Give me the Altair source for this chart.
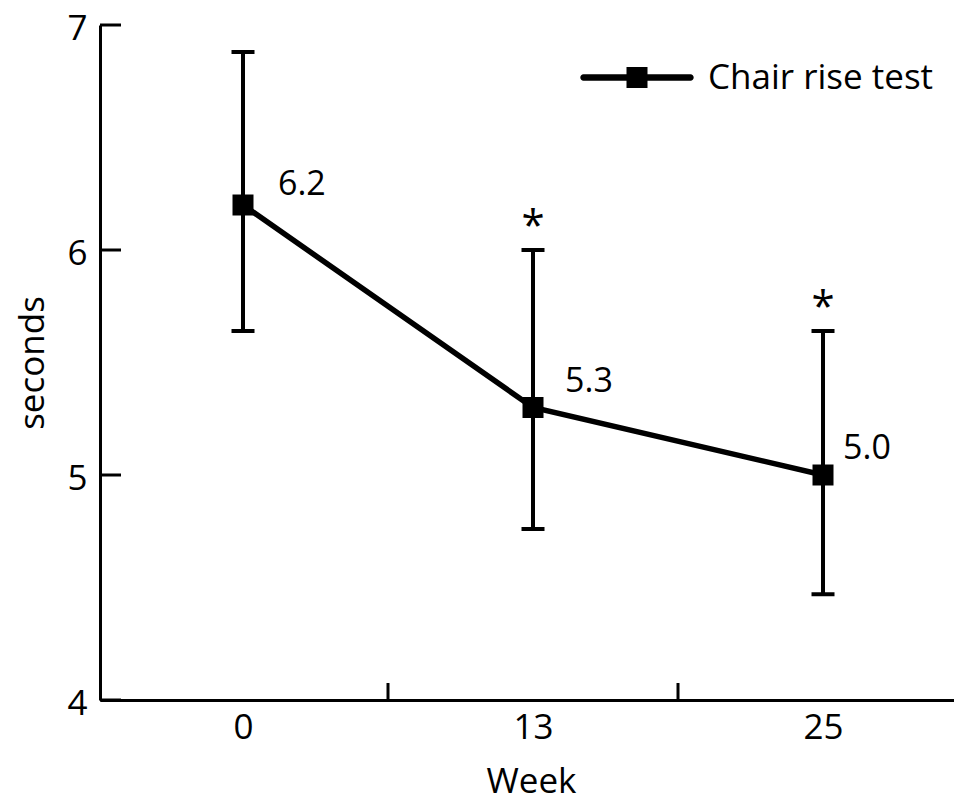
import altair as alt
import pandas as pd

# ---- data ----
weeks = ["0", "13", "25"]
means = [6.2, 5.3, 5.0]
lower = [5.64, 4.76, 4.47]
upper = [6.88, 6.00, 5.64]
marks = ["", "*", "*"]
series_name = "Chair rise test"
y_ticks = [4, 5, 6, 7]

df = pd.DataFrame({
    "idx": list(range(len(weeks))),
    "week": weeks,
    "mean": means,
    "lower": lower,
    "upper": upper,
    "mark": marks,
    "series": [series_name] * len(weeks),
})
ytick_df = pd.DataFrame({"v": y_ticks})
xtick_df = pd.DataFrame({"v": [i + 0.5 for i in range(len(weeks) - 1)]})

FONT = "Open Sans"
W, H = 854, 675

label_expr = "[" + ",".join("'%s'" % w for w in weeks) + "][datum.value]"
xscale = alt.Scale(domain=[-0.4931, 2.4517], nice=False, zero=False)
yscale = alt.Scale(domain=[4, 7], nice=False, zero=False)

x_enc = alt.X("idx:Q", scale=xscale,
              axis=alt.Axis(values=list(range(len(weeks))), labelExpr=label_expr,
                            title="Week", titleX=431, titleY=92,
                            titleBaseline="alphabetic", labelPadding=10))
y_enc = alt.Y("mean:Q", scale=yscale,
              axis=alt.Axis(values=y_ticks, format="d", title="seconds",
                            titleX=-57, titleY=H / 2, titleBaseline="alphabetic",
                            titleAngle=270, labelPadding=13, labelOffset=3))

base = alt.Chart(df)

line = base.mark_line(color="black", strokeWidth=5.5).encode(x=x_enc, y=y_enc)

err = base.mark_rule(color="black", strokeWidth=4).encode(
    x="idx:Q", y="lower:Q", y2="upper:Q")
cap_hi = base.mark_tick(color="black", orient="horizontal", size=23, thickness=4,
                        opacity=1).encode(x="idx:Q", y="upper:Q")
cap_lo = base.mark_tick(color="black", orient="horizontal", size=23, thickness=4,
                        opacity=1).encode(x="idx:Q", y="lower:Q")

legend_path = ("M-5.1,-0.3H5.1A0.3,0.3 0 0 1 5.1,0.3H-5.1A0.3,0.3 0 0 1 -5.1,-0.3Z "
               "M-1,-1H1V1H-1Z")

points = base.mark_point(shape="square", size=441, filled=True, opacity=1).encode(
    x="idx:Q", y="mean:Q",
    color=alt.Color("series:N", scale=alt.Scale(range=["black"]),
                    legend=alt.Legend(title=None, orient="none", legendX=519.5, legendY=35,
                                      symbolType=legend_path, symbolSize=441,
                                      symbolStrokeWidth=0, symbolOpacity=1,
                                      labelFont=FONT, labelFontSize=35,
                                      labelColor="black", labelOffset=53.5,
                                      labelLimit=0, padding=0)))

label_dx = [35, 32, 20]
label_dy = [-10, -16, -16]
value_labels = []
for i in range(len(weeks)):
    value_labels.append(
        base.transform_filter(alt.datum.idx == i).mark_text(
            align="left", baseline="alphabetic", dx=label_dx[i], dy=label_dy[i],
            font=FONT, fontSize=34, color="black").encode(
            x="idx:Q", y="mean:Q", text=alt.Text("mean:Q", format=".1f")))

stars = base.mark_text(align="center", baseline="alphabetic", dy=-10, font=FONT,
                       fontSize=42, color="black").encode(
    x="idx:Q", y="upper:Q", text="mark:N")

ytick_rules = alt.Chart(ytick_df).mark_rule(color="black", strokeWidth=3).encode(
    y=alt.Y("v:Q", scale=yscale), x=alt.value(0), x2=alt.value(21))
xtick_rules = alt.Chart(xtick_df).mark_rule(color="black", strokeWidth=3).encode(
    x=alt.X("v:Q", scale=xscale), y=alt.value(H), y2=alt.value(H - 17))

chart = alt.layer(line, err, cap_hi, cap_lo, points, *value_labels, stars,
                  ytick_rules, xtick_rules).properties(
    width=W, height=H,
    autosize=alt.AutoSizeParams(type="none"),
    padding={"left": 92, "top": 17, "right": 0, "bottom": 103},
).configure_view(stroke=None).configure_axis(
    domainColor="black", domainWidth=3, ticks=False, grid=False,
    labelFont=FONT, labelFontSize=35, labelColor="black",
    titleFont=FONT, titleFontSize=35, titleColor="black", titleFontWeight="normal",
)

chart.save("out.html", embed_options={"renderer": "svg", "actions": False})
